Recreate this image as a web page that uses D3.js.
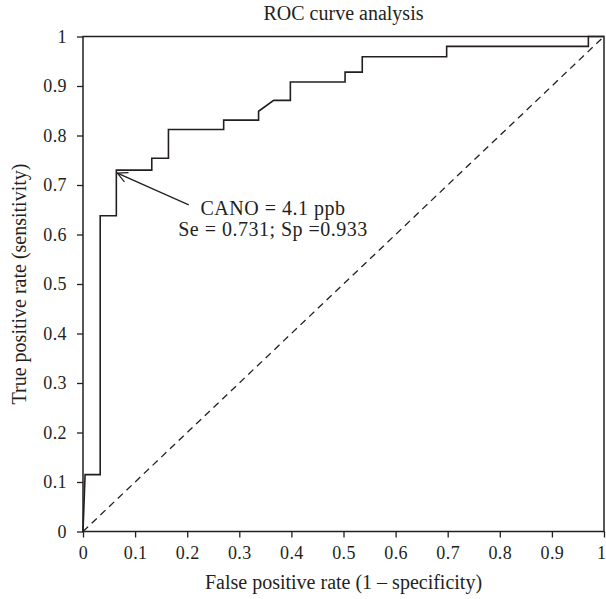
<!DOCTYPE html>
<html>
<head>
<meta charset="utf-8">
<script src="https://cdn.jsdelivr.net/npm/d3@7"></script>
<style>
  body { margin: 0; background: #fff; }
  text { font-family: "Liberation Serif", "DejaVu Serif", serif; fill: #231f20; }
</style>
</head>
<body>
<svg width="606" height="599"></svg>
<script>
// ROC curve points
var fpr = [0, 0.004, 0.033, 0.033, 0.064, 0.064, 0.132, 0.132, 0.164, 0.164, 0.27, 0.27, 0.337, 0.337, 0.366, 0.398, 0.398, 0.503, 0.503, 0.536, 0.536, 0.698, 0.698, 0.97, 0.97, 1];
var tpr = [0, 0.115, 0.115, 0.638, 0.638, 0.73, 0.73, 0.754, 0.754, 0.812, 0.812, 0.831, 0.831, 0.849, 0.871, 0.871, 0.908, 0.908, 0.928, 0.928, 0.959, 0.959, 0.98, 0.98, 1, 1];

// reference (chance) line
var chanceX = [0, 1];
var chanceY = [0, 1];

var tickValues = [0, 0.1, 0.2, 0.3, 0.4, 0.5, 0.6, 0.7, 0.8, 0.9, 1];

// optimal cut-off annotation
var cutPoint = [0.064, 0.73];
var arrowTail = [0.203, 0.66];
var noteLines = ["CANO = 4.1 ppb", "Se = 0.731; Sp =0.933"];

var svg = d3.select("svg");
var ink = "#231f20";

var x = d3.scaleLinear().domain([0, 1]).range([83, 604]);
var y = d3.scaleLinear().domain([0, 1]).range([531.5, 36.5]);

var fmt = function(d) { return +d.toFixed(1) + ""; };

// Axes
var xAxis = svg.append("g")
  .attr("transform", "translate(0," + y(0) + ")")
  .call(d3.axisBottom(x).tickValues(tickValues).tickFormat(fmt).tickSizeOuter(0).tickSize(6).tickPadding(5));
var yAxis = svg.append("g")
  .attr("transform", "translate(" + x(0) + ",0)")
  .call(d3.axisLeft(y).tickValues(tickValues).tickFormat(fmt).tickSizeOuter(0).tickSize(6).tickPadding(10));

[xAxis, yAxis].forEach(function(g) {
  g.select(".domain").remove();
  g.selectAll(".tick line").attr("stroke", ink).attr("stroke-width", 1.3);
  g.selectAll(".tick text").style("font-size", "18px").style("letter-spacing", "0.4px").attr("fill", ink);
});
xAxis.selectAll(".tick text").attr("dy", "0.9em");
// last label sits on the right edge, keep it inside the page
xAxis.selectAll(".tick text").filter(function(d) { return d === 1; })
  .attr("text-anchor", "end").attr("x", 2);

// Frame
svg.append("rect")
  .attr("x", x(0)).attr("y", y(1))
  .attr("width", x(1) - x(0)).attr("height", y(0) - y(1))
  .attr("fill", "none").attr("stroke", ink).attr("stroke-width", 1.5);

// Chance line
var line = d3.line().x(function(d) { return x(d[0]); }).y(function(d) { return y(d[1]); });
svg.append("path")
  .datum(d3.zip(chanceX, chanceY))
  .attr("d", line)
  .attr("fill", "none").attr("stroke", ink).attr("stroke-width", 1.3)
  .attr("stroke-dasharray", "7,5");

// ROC curve
svg.append("path")
  .datum(d3.zip(fpr, tpr))
  .attr("d", line)
  .attr("fill", "none").attr("stroke", ink).attr("stroke-width", 1.6);

// Arrow
svg.append("defs").append("marker")
  .attr("id", "arrow")
  .attr("viewBox", "0 0 12 12")
  .attr("refX", 11).attr("refY", 6)
  .attr("markerWidth", 12).attr("markerHeight", 12)
  .attr("markerUnits", "userSpaceOnUse")
  .attr("orient", "auto")
  .append("path")
  .attr("d", "M1,1 L11,6 L1,11")
  .attr("fill", "none").attr("stroke", ink).attr("stroke-width", 1.2);

svg.append("line")
  .attr("x1", x(arrowTail[0])).attr("y1", y(arrowTail[1]))
  .attr("x2", x(cutPoint[0]) + 1).attr("y2", y(cutPoint[1]) + 3)
  .attr("stroke", ink).attr("stroke-width", 1.3)
  .attr("marker-end", "url(#arrow)");

svg.selectAll(".note")
  .data(noteLines)
  .enter().append("text")
  .attr("class", "note")
  .attr("x", 273)
  .attr("y", function(d, i) { return 215 + i * 21; })
  .attr("text-anchor", "middle")
  .style("font-size", "20px")
  .style("letter-spacing", "0.5px")
  .text(function(d) { return d; });

// Titles
svg.append("text")
  .attr("x", (x(0) + x(1)) / 2).attr("y", 20)
  .attr("text-anchor", "middle").style("font-size", "20px")
  .text("ROC curve analysis");

svg.append("text")
  .attr("x", (x(0) + x(1)) / 2).attr("y", 589)
  .attr("text-anchor", "middle").style("font-size", "20px")
  .text("False positive rate (1 – specificity)");

svg.append("text")
  .attr("transform", "translate(26," + (y(0) + y(1)) / 2 + ") rotate(-90)")
  .attr("text-anchor", "middle").style("font-size", "20px")
  .text("True positive rate (sensitivity)");
</script>
</body>
</html>
